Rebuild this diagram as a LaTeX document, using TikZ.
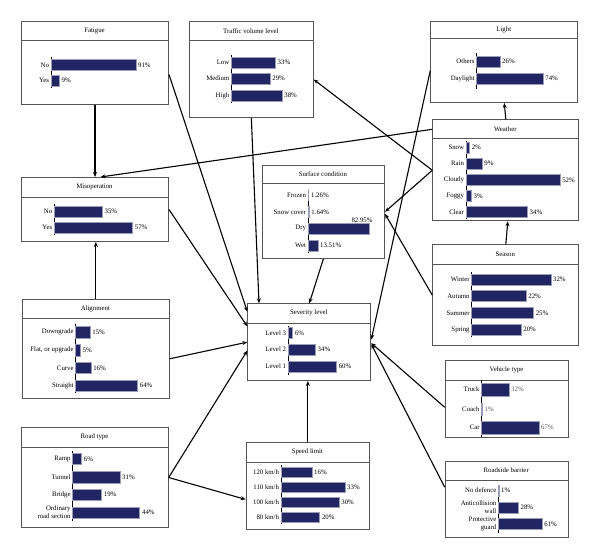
\documentclass[tikz,border=0pt]{standalone}
\usepackage{fontspec}
\setmainfont{Liberation Serif}
\usepackage{xcolor}
\usepackage{tikz}
\usetikzlibrary{arrows.meta,calc}
\definecolor{barnavy}{RGB}{33,38,98}
\definecolor{framegray}{RGB}{85,85,85}

\begin{document}
\begin{tikzpicture}[x=1pt, y=-1pt, font=\fontsize{6.8}{8}\selectfont,
		panel/.style={draw=framegray, line width=1pt, inner sep=0pt, anchor=north west},
		sepline/.style={draw=framegray, line width=1pt},
		bar/.style={fill=barnavy, draw=barnavy!45, line width=0.3pt},
		lab/.style={anchor=east, align=right, inner sep=1pt},
		val/.style={anchor=west, inner sep=1pt},
		link/.style={line width=1.1pt, -{Stealth[length=5pt, width=4pt]}}]
		\useasboundingbox (0,0) rectangle (600,559);
		% Fatigue
		\node[panel, minimum width=147pt, minimum height=83pt] (fat) at (21,21) {};
		\draw[sepline] (21,41) -- (168,41);
		\node at (94.5,31) {Fatigue};
		\draw (50.7,57) -- (50.7,88);
		\foreach \l/\v/\y in {No/91/65, Yes/9/80.5}
			{\draw[bar] (50.7,\y-5.5) rectangle ++(0.934*\v,11);
				\node[lab] at (50.2,\y) {\l};
				\node[val] at (52+0.934*\v,\y) {\v\%};}
		% Traffic volume level
		\node[panel, minimum width=123.7pt, minimum height=96pt] (tra) at (189,21) {};
		\draw[sepline] (189,41) -- (312.7,41);
		\node at (250.85,31) {Traffic volume level};
		\draw (231,55) -- (231,103);
		\foreach \l/\v/\y in {Low/33/62.5, Medium/29/78.5, High/38/95.5}
			{\draw[bar] (231,\y-5.5) rectangle ++(1.34*\v,11);
				\node[lab] at (230.5,\y) {\l};
				\node[val] at (232.3+1.34*\v,\y) {\v\%};}
		% Misoperation
		\node[panel, minimum width=147pt, minimum height=64pt] (mis) at (21,177) {};
		\draw[sepline] (21,197) -- (168,197);
		\node at (94.5,187) {Misoperation};
		\draw (54,204) -- (54,235);
		\foreach \l/\v/\y in {No/35/211.5, Yes/57/227.5}
			{\draw[bar] (54,\y-5.5) rectangle ++(1.375*\v,11);
				\node[lab] at (53.5,\y) {\l};
				\node[val] at (55.3+1.375*\v,\y) {\v\%};}
		% Surface condition
		\node[panel, minimum width=122.3pt, minimum height=93.3pt] (sur) at (261.7,164.7) {};
		\draw[sepline] (261.7,184) -- (384,184);
		\node at (322.85,174.3) {Surface condition};
		\draw (307.7,189) -- (307.7,253);
		\foreach \l/\v/\y in {Frozen/1.26/195, {Snow cover}/1.64/212, Dry/82.95/228.5, Wet/13.51/245.5}
			{\draw[bar] (307.7,\y-5.5) rectangle ++(0.743*\v,11);
				\node[lab] at (307.2,\y) {\l};}
		\foreach \v/\y in {1.26/195, 1.64/212, 13.51/245.5}
			{\node[val] at (309+0.743*\v,\y) {\v\%};}
		\node[val, anchor=south] at (362,223.5) {82.95\%};
		% Severity level
		\node[panel, minimum width=123pt, minimum height=76.7pt] (sev) at (247.3,303.3) {};
		\draw[sepline] (247.3,323) -- (370.3,323);
		\node at (308.8,313.2) {Severity level};
		\draw (287.7,326) -- (287.7,375);
		\foreach \l/\v/\y in {{Level 3}/6/333, {Level 2}/34/349.5, {Level 1}/60/366.5}
			{\draw[bar] (287.7,\y-5.5) rectangle ++(0.81*\v,11);
				\node[lab] at (287.2,\y) {\l};
				\node[val] at (289+0.81*\v,\y) {\v\%};}
		% Speed limit
		\node[panel, minimum width=123.3pt, minimum height=86.7pt] (spe) at (245.7,442.3) {};
		\draw[sepline] (245.7,462) -- (369,462);
		\node at (307.35,452) {Speed limit};
		\draw (280.7,465) -- (280.7,524);
		\foreach \l/\v/\y in {{120 km/h}/16/472, {110 km/h}/33/487, {100 km/h}/30/502, {80 km/h}/20/517}
			{\draw[bar] (280.7,\y-5) rectangle ++(1.94*\v,10);
				\node[lab] at (280.2,\y) {\l};
				\node[val] at (282+1.94*\v,\y) {\v\%};}
		% Alignment
		\node[panel, minimum width=146.7pt, minimum height=99pt] (ali) at (22,299) {};
		\draw[sepline] (22,318.7) -- (168.7,318.7);
		\node at (95.35,308.8) {Alignment};
		\draw (75.3,324) -- (75.3,393);
		\foreach \l/\v/\y in {Downgrade/15/332.3, {Flat, or upgrade}/5/350, Curve/16/367.8, Straight/64/385.5}
			{\draw[bar] (75.3,\y-5.7) rectangle ++(0.97*\v,11.4);
				\node[lab] at (74.8,\y) {\l};
				\node[val] at (76.6+0.97*\v,\y) {\v\%};}
		% Road type
		\node[panel, minimum width=146.4pt, minimum height=99.4pt] (roa) at (21.3,427.3) {};
		\draw[sepline] (21.3,447) -- (167.7,447);
		\node at (94.5,437) {Road type};
		\draw (72.3,451) -- (72.3,521);
		\foreach \l/\v/\y in {Ramp/6/458.8, Tunnel/31/477, Bridge/19/494.5, {Ordinary\\road section}/44/512.5}
			{\draw[bar] (72.3,\y-5.7) rectangle ++(1.53*\v,11.4);
				\node[lab] at (71.8,\y) {\l};
				\node[val] at (73.6+1.53*\v,\y) {\v\%};}
		% Light
		\node[panel, minimum width=147pt, minimum height=80.7pt] (lig) at (430.3,21.3) {};
		\draw[sepline] (430.3,38.7) -- (577.3,38.7);
		\node at (503.8,30) {Light};
		\draw (476.3,53) -- (476.3,89);
		\foreach \l/\v/\y in {Others/26/61.5, Daylight/74/78.7}
			{\draw[bar] (476.3,\y-5.5) rectangle ++(0.9*\v,11);
				\node[lab] at (475.8,\y) {\l};
				\node[val] at (477.6+0.9*\v,\y) {\v\%};}
		% Weather
		\node[panel, minimum width=146pt, minimum height=101pt] (wea) at (432.3,119.3) {};
		\draw[sepline] (432.3,139) -- (578.3,139);
		\node at (505.3,129.2) {Weather};
		\draw (465.7,141) -- (465.7,219);
		\foreach \l/\v/\y in {Snow/2/147.2, Rain/9/163.5, Cloudy/52/179.8, Foggy/3/195.8, Clear/34/211.8}
			{\draw[bar] (465.7,\y-5.5) rectangle ++(1.81*\v,11);
				\node[lab] at (465.2,\y) {\l};
				\node[val] at (467+1.81*\v,\y) {\v\%};}
		% Season
		\node[panel, minimum width=146pt, minimum height=100.7pt] (sea) at (432.3,244.3) {};
		\draw[sepline] (432.3,264) -- (578.3,264);
		\node at (505.3,254) {Season};
		\draw (471.3,272) -- (471.3,337);
		\foreach \l/\v/\y in {Winter/32/279.3, Autumn/22/296, Summer/25/312.8, Spring/20/329.5}
			{\draw[bar] (471.3,\y-5.5) rectangle ++(2.48*\v,11);
				\node[lab] at (470.8,\y) {\l};
				\node[val] at (472.6+2.48*\v,\y) {\v\%};}
		% Vehicle type
		\node[panel, minimum width=123.6pt, minimum height=77pt] (veh) at (444.7,360.3) {};
		\draw[sepline] (444.7,380) -- (568.3,380);
		\node at (506.5,370) {Vehicle type};
		\draw (481.3,380) -- (481.3,437.3);
		\foreach \l/\v/\y in {Truck/32/389.5, Coach/1/409, Car/67/427.5}
			{\draw[bar] (481.3,\y-6.2) rectangle ++(0.857*\v,12.4);
				\node[lab] at (480.8,\y) {\l};
				\node[val, text=black!65] at (482.6+0.857*\v,\y) {\v\%};}
		% Roadside barrier
		\node[panel, minimum width=123pt, minimum height=76.6pt] (rsb) at (444.7,460.7) {};
		\draw[sepline] (444.7,480) -- (567.7,480);
		\node at (506.2,470.3) {Roadside barrier};
		\draw (498,485) -- (498,533);
		\foreach \l/\v/\y in {{No defence}/1/490.3, {Anticollision\\wall}/28/507.2, {Protective\\guard}/61/523.8}
			{\draw[bar] (498,\y-5.5) rectangle ++(0.72*\v,11);
				\node[lab] at (497.5,\y) {\l};
				\node[val] at (499.3+0.72*\v,\y) {\v\%};}
		% links
		\draw[link] (fat.south) -- (mis.north);
		\draw[link] ([yshift=-11.5pt]fat.east) -- ([yshift=-8.4pt]sev.north west);
		\draw[link] (mis.east) -- ([yshift=-23pt]sev.north west);
		\draw[link] (tra.south) -- ([xshift=11.7pt]sev.north west);
		\draw[link] (sur.south) -- (sev.north);
		\draw[link] ([yshift=-10pt]wea.north west) -- ([xshift=5.5pt]mis.north);
		\draw[link] (wea.west) -- ([yshift=-10pt]tra.east);
		\draw[link] (wea.west) -- (sur.east);
		\draw[link] (wea.north) -- (lig.south);
		\draw[link] (sea.north) -- ([xshift=2pt]wea.south);
		\draw[link] (sea.west) -- ([yshift=-2pt]sur.east);
		\draw[link] ([yshift=-8.4pt]lig.west) -- ([yshift=2.6pt]sev.east);
		\draw[link] ([yshift=-8pt]veh.west) -- ([yshift=-1pt]sev.east);
		\draw[link] ([yshift=12.3pt]rsb.west) -- ([yshift=-2pt]sev.east);
		\draw[link] (spe.north) -- (spe.north |- sev.south);
		\draw[link] (ali.north) -- (ali.north |- mis.south);
		\draw[link] ([yshift=-9.8pt]ali.east) -- (sev.west);
		\draw[link] (roa.east) -- ([yshift=-8.4pt]sev.west);
		\draw[link] (roa.east) -- ([yshift=-13.3pt]spe.west);
	\end{tikzpicture}
\end{document}
